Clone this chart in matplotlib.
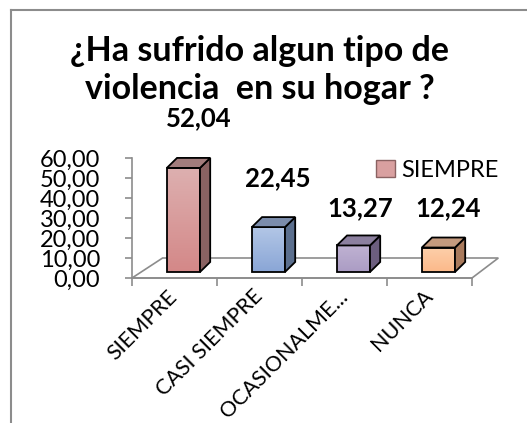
import matplotlib.pyplot as plt
import numpy as np
from matplotlib.colors import LinearSegmentedColormap
from matplotlib.lines import Line2D
from matplotlib.patches import Polygon, Rectangle

#--------------------------------------------------------------------
# DATA
#--------------------------------------------------------------------
TITLE = "¿Ha sufrido algun tipo de\nviolencia  en su hogar ?"
CATEGORIES = ["SIEMPRE", "CASI SIEMPRE", "OCASIONALME...", "NUNCA"]
VALUES = [52.04, 22.45, 13.27, 12.24]
SERIES_NAME = "SIEMPRE"
Y_TICKS = [0, 10, 20, 30, 40, 50, 60]

#--------------------------------------------------------------------
# STYLE
#--------------------------------------------------------------------
FRONT_TOP = ["#ddb0b0", "#b2c6e6", "#bfb2d2", "#fdcfaa"]
FRONT_BOT = ["#d48888", "#8aa6d6", "#ab9cc4", "#fbb98a"]
SIDE = ["#8a6262", "#5b6f8e", "#6c5e7e", "#a97a5c"]
TOP = ["#a27c7c", "#7b8cab", "#8c809f", "#c49a7e"]
GRAY = "#8c8c8c"

# fake 3d, in data units (x = category index, y = value)
BAR_W = 0.39
SHIFT_X, SHIFT_Y = 0.105, 3.0    # bars stand half way into the floor
DEPTH_X, DEPTH_Y = 0.12, 5.0     # depth of each bar
FLOOR_L, FLOOR_R, FLOOR_Y = 0.36, 0.31, 10.0
# where excel put each value label, relative to the bar (x in categories, y in values)
LABEL_NUDGE = [(0.29, 28.0), (0.21, 27.5), (0.18, 21.7), (0.22, 22.8)]

plt.rcParams["font.family"] = ["Lato", "DejaVu Sans"]


def fmt(v):
    return f"{v:.2f}".replace(".", ",")


fig = plt.figure(figsize=(5.27, 4.23), dpi=100)
ax = fig.add_axes([132 / 527, 145 / 423, 340 / 527, 120 / 423])
ax.set_xlim(-0.5, 3.5)
ax.set_ylim(0, 60)

for side in ["top", "right"]:
    ax.spines[side].set_visible(False)
for side in ["left", "bottom"]:
    ax.spines[side].set_color(GRAY)
    ax.spines[side].set_linewidth(1.2)

# floor of the 3d box
floor = Polygon(
    [(-0.5, 0), (3.5, 0), (3.5 + FLOOR_R, FLOOR_Y), (-0.5 + FLOOR_L, FLOOR_Y)],
    closed=True, facecolor="none", edgecolor=GRAY, lw=1.2, clip_on=False, zorder=1
)
ax.add_patch(floor)

xs = np.arange(len(VALUES))
grad = np.linspace(0, 1, 64).reshape(-1, 1)
for i, v in enumerate(VALUES):
    x0 = xs[i] + SHIFT_X - BAR_W / 2
    x1 = x0 + BAR_W
    y0 = SHIFT_Y
    y1 = SHIFT_Y + v
    cmap = LinearSegmentedColormap.from_list(f"b{i}", [FRONT_BOT[i], FRONT_TOP[i]])
    ax.imshow(grad, extent=[x0, x1, y0, y1], origin="lower", cmap=cmap,
              aspect="auto", zorder=2, clip_on=False)
    ax.bar(xs[i] + SHIFT_X, v, BAR_W, bottom=SHIFT_Y, facecolor="none",
           edgecolor="black", lw=1.3, zorder=3, clip_on=False)
    side_face = Polygon(
        [(x1, y0), (x1 + DEPTH_X, y0 + DEPTH_Y), (x1 + DEPTH_X, y1 + DEPTH_Y), (x1, y1)],
        closed=True, facecolor=SIDE[i], edgecolor="black", lw=1.3, zorder=3, clip_on=False
    )
    top_face = Polygon(
        [(x0, y1), (x1, y1), (x1 + DEPTH_X, y1 + DEPTH_Y), (x0 + DEPTH_X, y1 + DEPTH_Y)],
        closed=True, facecolor=TOP[i], edgecolor="black", lw=1.3, zorder=3, clip_on=False
    )
    ax.add_patch(side_face)
    ax.add_patch(top_face)
    nx, ny = LABEL_NUDGE[i]
    ax.text(xs[i] + nx, v + ny, fmt(v), ha="center", va="center",
            fontsize=18.5, fontweight="bold", color="black", clip_on=False)

ax.set_xlim(-0.5, 3.5)
ax.set_ylim(0, 60)

# y axis
ax.set_yticks(Y_TICKS)
ax.set_yticklabels([fmt(t) for t in Y_TICKS])
ax.tick_params(axis="y", direction="out", length=5, color=GRAY, width=1.2,
               labelsize=17, pad=18)

# x axis: tick marks between categories, labels at centres
ax.set_xticks(np.arange(-0.5, 4, 1), minor=True)
ax.tick_params(axis="x", which="minor", direction="out", length=6, color=GRAY, width=1.2)
ax.set_xticks(xs)
ax.set_xticklabels(CATEGORIES, rotation=45, ha="right", va="center",
                   rotation_mode="anchor", fontsize=15.5)
ax.tick_params(axis="x", which="major", length=0, pad=11)

# legend
handle = Rectangle((0, 0), 1, 1, facecolor="#d9a0a0", edgecolor="#8a6262", lw=1)
ax.legend([handle], [SERIES_NAME], loc="center left",
          bbox_to_anchor=(376 / 527, 1 - 170 / 423), bbox_transform=fig.transFigure,
          frameon=False, fontsize=17, handlelength=0.8, handleheight=0.75,
          handletextpad=0.25, borderpad=0, borderaxespad=0)

# title
fig.text(260 / 527, 1 - 70 / 423, TITLE, ha="center", va="center",
         fontsize=24.5, fontweight="bold", linespacing=1.2)

# chart frame, only the top and left edges are in view
fig.add_artist(Line2D([11 / 527, 11 / 527], [0, 1 - 10 / 423], color=GRAY, lw=1.5,
                      transform=fig.transFigure))
fig.add_artist(Line2D([11 / 527, 1], [1 - 10 / 423, 1 - 10 / 423], color=GRAY, lw=1.5,
                      transform=fig.transFigure))

fig.savefig("out.png", dpi=100)
